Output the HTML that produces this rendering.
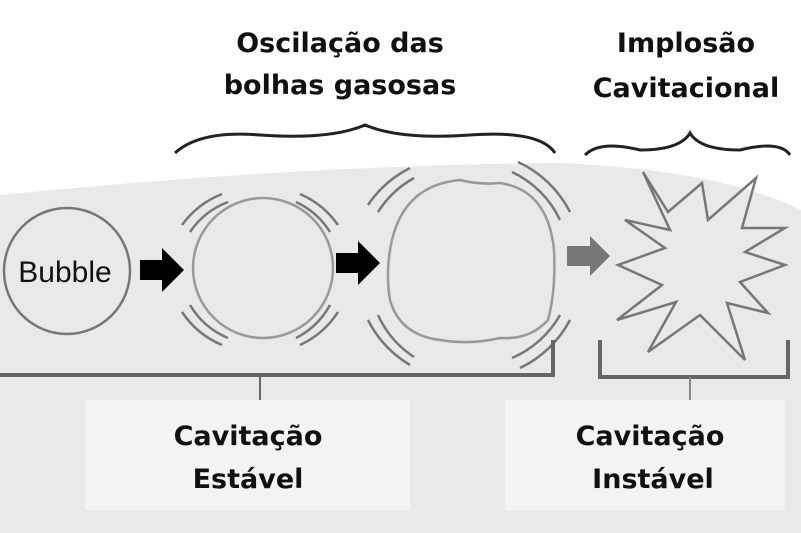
<!DOCTYPE html>
<html><head><meta charset="utf-8"><style>
html,body{margin:0;padding:0;background:#fff;}
svg{display:block}
text{font-family:"DejaVu Sans","Liberation Sans",sans-serif;font-weight:bold;fill:#111;}
</style></head><body>
<svg width="801" height="533" viewBox="0 0 801 533">
<path d="M0 195 Q300 165 560 163 Q720 170 801 210 L801 533 L0 533 Z" fill="#e9e9e9"/>
<rect x="85" y="400" width="325" height="110" fill="#f3f3f3"/>
<rect x="505" y="400" width="280" height="110" fill="#f3f3f3"/>
<path d="M175 153 Q200 130 260 135 Q330 140 365 125 Q400 140 470 135 Q540 130 555 153" fill="none" stroke="#222" stroke-width="3"/>
<path d="M585 155 Q600 140 640 150 Q680 150 690 133 Q700 150 740 150 Q780 140 790 155" fill="none" stroke="#222" stroke-width="3"/>
<circle cx="67" cy="271" r="63" fill="none" stroke="#777" stroke-width="2.5"/>
<text x="65" y="282" text-anchor="middle" font-size="30" style="font-weight:normal;font-family:'Liberation Sans',sans-serif">Bubble</text>
<path d="M140 260 L162 260 L162 248 L184 270 L162 292 L162 280 L140 280 Z" fill="#000"/>
<path d="M336 253 L358 253 L358 241 L380 263 L358 285 L358 273 L336 273 Z" fill="#000"/>
<path d="M567 246 L590 246 L590 236 L610 256 L590 276 L590 266 L567 266 Z" fill="#777"/>
<circle cx="263" cy="268" r="70" fill="none" stroke="#999" stroke-width="2.5"/>
<g fill="none" stroke="#777" stroke-width="2.5">
<path d="M182 225 A90 90 0 0 1 222 194"/><path d="M190 232 A80 80 0 0 1 228 202"/>
<path d="M300 194 A90 90 0 0 1 338 225"/><path d="M296 202 A80 80 0 0 1 330 232"/>
<path d="M182 312 A90 90 0 0 0 222 345"/><path d="M190 305 A80 80 0 0 0 228 338"/>
<path d="M300 345 A90 90 0 0 0 338 312"/><path d="M296 338 A80 80 0 0 0 330 305"/>
</g>
<path d="M392 240 Q405 185 460 180 Q480 185 500 183 Q548 190 554 250 Q556 290 548 320 Q530 340 500 338 Q470 345 440 340 Q400 335 390 300 Q385 270 392 240 Z" fill="none" stroke="#999" stroke-width="2.5"/>
<g fill="none" stroke="#777" stroke-width="2.5">
<path d="M368 205 A110 110 0 0 1 410 168"/><path d="M378 212 A100 100 0 0 1 414 178"/>
<path d="M518 162 A110 110 0 0 1 570 212"/><path d="M512 172 A100 100 0 0 1 560 220"/>
<path d="M368 320 A110 110 0 0 0 410 365"/><path d="M378 315 A100 100 0 0 0 414 357"/>
<path d="M520 368 A110 110 0 0 0 570 320"/><path d="M512 358 A100 100 0 0 0 560 315"/>
</g>
<path d="M643 172 L668 212 L702 183 L708 220 L756 178 L742 228 L785 228 L745 252 L785 265 L740 282 L768 313 L727 303 L745 360 L700 315 L648 352 L676 302 L617 320 L662 285 L618 265 L665 248 L625 220 L670 230 Z" fill="none" stroke="#777" stroke-width="2.5" stroke-linejoin="miter"/>
<path d="M0 375 L553 375 L553 340" fill="none" stroke="#666" stroke-width="4"/>
<line x1="260" y1="375" x2="260" y2="400" stroke="#666" stroke-width="2"/>
<path d="M600 340 L600 377 L788 377 L788 340" fill="none" stroke="#666" stroke-width="4"/>
<line x1="690" y1="377" x2="690" y2="400" stroke="#888" stroke-width="2"/>
<text x="340" y="52" text-anchor="middle" font-size="27">Oscilação das</text>
<text x="340" y="94" text-anchor="middle" font-size="27">bolhas gasosas</text>
<text x="686" y="52" text-anchor="middle" font-size="27">Implosão</text>
<text x="686" y="97" text-anchor="middle" font-size="27">Cavitacional</text>
<text x="248" y="445" text-anchor="middle" font-size="27">Cavitação</text>
<text x="248" y="488" text-anchor="middle" font-size="27">Estável</text>
<text x="650" y="445" text-anchor="middle" font-size="27">Cavitação</text>
<text x="653" y="488" text-anchor="middle" font-size="27">Instável</text>
</svg>
</body></html>
